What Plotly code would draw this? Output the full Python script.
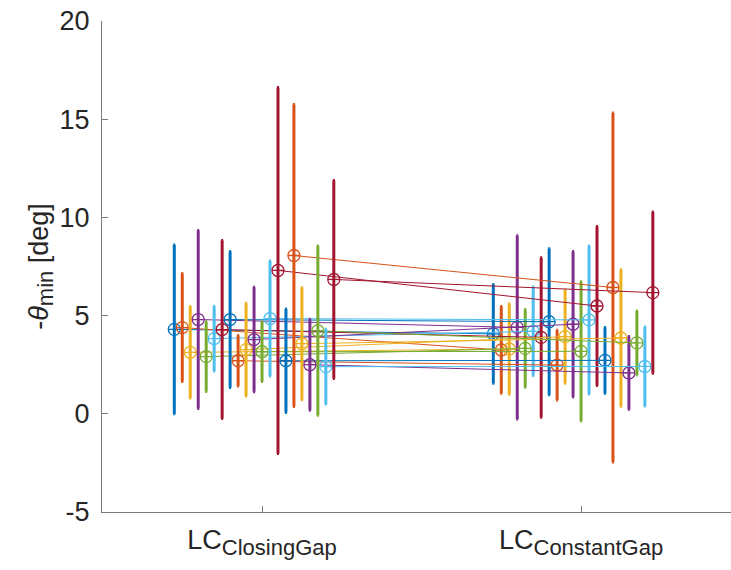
import plotly.graph_objects as go

categories = ["LC<sub><span style='font-size:22px'>ClosingGap</span></sub>",
              "LC<sub><span style='font-size:22px'>ConstantGap</span></sub>"]
mean_closing = [4.30, 4.39, 3.13, 4.80, 2.91, 3.83, 4.29, 4.80, 2.70, 3.27, 3.78,
                3.16, 4.85, 7.30, 2.70, 8.06, 3.57, 2.50, 4.23, 2.40, 6.84]
err_closing = [4.30, 2.75, 2.33, 4.53, 1.78, 1.65, 4.53, 3.46, 1.29, 2.36, 2.66,
               1.52, 2.93, 9.32, 2.63, 7.69, 2.85, 2.32, 4.31, 1.90, 5.04]
mean_constant = [4.07, 3.25, 3.30, 4.40, 3.33, 4.20, 3.89, 4.69, 2.48, 3.93, 4.56,
                 3.18, 4.78, 5.49, 2.72, 6.43, 3.86, 2.08, 3.61, 2.41, 6.17]
err_constant = [2.51, 2.21, 2.30, 4.67, 1.98, 2.25, 4.06, 3.72, 1.78, 2.37, 3.71,
                3.54, 3.77, 4.05, 1.68, 8.88, 3.47, 1.85, 1.62, 2.01, 4.10]
y_ticks = [-5, 0, 5, 10, 15, 20]
y_ticktext = ["-5", "0", "5", "10", "15", "20"]

colors = ["#0072BD", "#D95319", "#EDB120", "#7E2F8E", "#77AC30", "#4DBEEE", "#A2142F"]

fig = go.Figure()
n = len(mean_closing)
for i in range(n):
    off = (i - 11) * 0.025
    c = colors[i % len(colors)]
    fig.add_trace(go.Scatter(
        x=[1 + off, 2 + off],
        y=[mean_closing[i], mean_constant[i]],
        mode="lines+markers",
        line=dict(color=c, width=1),
        marker=dict(symbol="circle-cross-open", size=12, color=c, line=dict(width=1.3, color=c)),
        error_y=dict(type="data", array=[err_closing[i], err_constant[i]], symmetric=True,
                     color=c, thickness=3, width=1),
        showlegend=False,
        hoverinfo="skip",
    ))

axis_col = "#7a7a7a"
txt_col = "#262626"
fig.update_layout(
    width=731, height=570,
    margin=dict(l=102, r=0, t=21, b=58),
    plot_bgcolor="white", paper_bgcolor="white",
    font=dict(family="Liberation Sans, Arial, sans-serif", size=27, color=txt_col),
    xaxis=dict(
        range=[0.4984, 2.470], tickmode="array", tickvals=[1, 2], ticktext=categories,
        showline=True, linecolor=axis_col, linewidth=1, ticks="inside", ticklen=6,
        tickcolor=axis_col, showgrid=False, zeroline=False, mirror=False,
        tickfont=dict(size=27, color=txt_col), ticklabelstandoff=4,
    ),
    yaxis=dict(
        range=[-5, 20], tickmode="array", tickvals=y_ticks, ticktext=y_ticktext,
        showline=True, linecolor=axis_col, linewidth=1, ticks="inside", ticklen=6,
        tickcolor=axis_col, showgrid=False, zeroline=False, mirror=False,
        tickfont=dict(size=27, color=txt_col), ticklabelstandoff=6,
        title=dict(text="-<i>θ</i><sub><span style='font-size:22px'>min</span></sub> [deg]",
                   font=dict(size=27, color=txt_col), standoff=3),
    ),
)

fig.write_html("out.html")
